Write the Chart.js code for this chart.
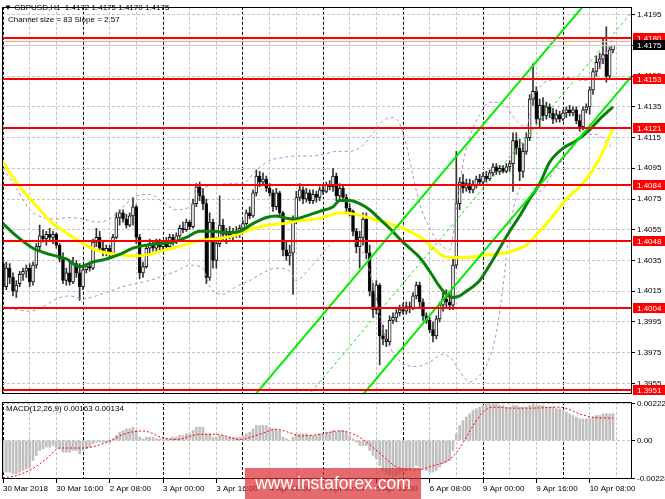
<!DOCTYPE html>
<html><head><meta charset="utf-8">
<script src="https://cdn.jsdelivr.net/npm/chart.js@4.4.1/dist/chart.umd.min.js"></script>
<style>
html,body{margin:0;padding:0;background:#fff;overflow:hidden;}
#wrap{position:relative;width:665px;height:499px;overflow:hidden;background:#fff;font-family:"Liberation Sans",Arial,sans-serif;}
canvas{position:absolute;left:0;}
#c1{top:0;}
#c2{top:395px;}
.t{position:absolute;font-size:8px;line-height:10px;color:#000;white-space:nowrap;}
#wm{position:absolute;left:245px;top:468px;width:176px;height:31px;background:rgba(218,48,52,0.72);color:#fff;font-size:17.5px;line-height:31px;text-align:center;}
</style></head><body>
<div id="wrap">
<canvas id="c1" width="665" height="401"></canvas>
<canvas id="c2" width="665" height="104"></canvas>
<div class="t" id="hdr1" style="left:4px;top:3px"></div>
<div class="t" style="left:8px;top:15px">Channel size = 83 Slope = 2.57</div>
<div class="t" id="hdr2" style="left:6px;top:404px"></div>
<div id="wm">www.instaforex.com</div>
</div>
<script>
// ---------- DATA ----------
const tickLabels = ["30 Mar 2018","30 Mar 16:00","2 Apr 08:00","3 Apr 00:00","3 Apr 16:00","4 Apr 08:00","5 Apr 00:00","5 Apr 16:00","6 Apr 08:00","9 Apr 00:00","9 Apr 16:00","10 Apr 08:00"];
const priceTicks = [1.3955,1.3975,1.3995,1.4015,1.4035,1.4055,1.4075,1.4095,1.4115,1.4135,1.4155,1.4175,1.4195];
const macdTicks = [-0.00228,0,0.00222];
const levels = [1.4180,1.4153,1.4121,1.4084,1.4048,1.4004,1.3951];
const bidPrice = 1.4175;
const askPrice = 1.41779;

const opens = [1.4033,1.4018,1.4030,1.4024,1.4015,1.4020,1.4026,1.4028,1.4030,1.4021,
1.4032,1.4044,1.4051,1.4049,1.4052,1.4050,1.4052,1.4045,1.4036,1.4022,
1.4027,1.4021,1.4033,1.4027,1.4018,1.4029,1.4031,1.4030,1.4047,1.4050,
1.4043,1.4040,1.4043,1.4039,1.4050,1.4063,1.4066,1.4062,1.4058,1.4064,
1.4070,1.4050,1.4027,1.4031,1.4043,1.4046,1.4043,1.4047,1.4044,1.4046,
1.4044,1.4050,1.4047,1.4051,1.4056,1.4055,1.4060,1.4057,1.4072,1.4083,
1.4077,1.4072,1.4024,1.4060,1.4035,1.4046,1.4058,1.4052,1.4054,1.4051,
1.4054,1.4052,1.4056,1.4059,1.4066,1.4064,1.4079,1.4090,1.4086,1.4088,
1.4082,1.4079,1.4070,1.4079,1.4066,1.4042,1.4038,1.4040,1.4061,1.4076,
1.4081,1.4075,1.4079,1.4074,1.4078,1.4076,1.4081,1.4080,1.4084,1.4083,
1.4090,1.4077,1.4082,1.4076,1.4069,1.4067,1.4054,1.4044,1.4050,1.4062,
1.4040,1.4015,1.4003,1.4019,1.3986,1.3984,1.3982,1.3996,1.3998,1.4001,
1.4003,1.4002,1.4005,1.4004,1.4012,1.4019,1.4008,1.3999,1.3996,1.3990,
1.3986,1.3997,1.4006,1.4010,1.4008,1.4006,1.4032,1.4072,1.4086,1.4082,
1.4085,1.4081,1.4084,1.4088,1.4086,1.4090,1.4088,1.4092,1.4096,1.4093,
1.4095,1.4093,1.4096,1.4098,1.4113,1.4108,1.4093,1.4106,1.4115,1.4140,
1.4145,1.4127,1.4136,1.4129,1.4135,1.4131,1.4127,1.4130,1.4127,1.4131,
1.4133,1.4131,1.4133,1.4126,1.4122,1.4133,1.4135,1.4146,1.4158,1.4164,
1.4166,1.4169,1.4155,1.4172];
const highs = [1.4035,1.4034,1.4033,1.4027,1.4022,1.4028,1.4030,1.4032,1.4033,1.4034,
1.4046,1.4058,1.4055,1.4054,1.4056,1.4054,1.4053,1.4046,1.4040,1.4030,
1.4035,1.4037,1.4035,1.4033,1.4031,1.4033,1.4034,1.4049,1.4056,1.4054,
1.4048,1.4045,1.4045,1.4052,1.4066,1.4068,1.4068,1.4065,1.4066,1.4076,
1.4071,1.4052,1.4034,1.4045,1.4049,1.4048,1.4049,1.4049,1.4048,1.4050,
1.4052,1.4052,1.4053,1.4058,1.4060,1.4062,1.4061,1.4075,1.4085,1.4086,
1.4082,1.4075,1.4066,1.4062,1.4050,1.4077,1.4062,1.4056,1.4057,1.4056,
1.4057,1.4058,1.4061,1.4068,1.4070,1.4081,1.4094,1.4093,1.4092,1.4090,
1.4085,1.4081,1.4082,1.4080,1.4067,1.4047,1.4045,1.4064,1.4080,1.4085,
1.4083,1.4082,1.4081,1.4081,1.4080,1.4083,1.4084,1.4086,1.4087,1.4095,
1.4092,1.4085,1.4084,1.4078,1.4072,1.4068,1.4056,1.4054,1.4066,1.4066,
1.4045,1.4020,1.4022,1.4020,1.3993,1.3990,1.3999,1.4001,1.4003,1.4006,
1.4007,1.4008,1.4008,1.4014,1.4021,1.4021,1.4010,1.4001,1.3998,1.3995,
1.3999,1.4008,1.4014,1.4016,1.4015,1.4036,1.4106,1.4089,1.4091,1.4088,
1.4088,1.4087,1.4090,1.4091,1.4092,1.4093,1.4094,1.4098,1.4098,1.4097,
1.4097,1.4098,1.4100,1.4118,1.4118,1.4114,1.4111,1.4118,1.4143,1.4163,
1.4148,1.4140,1.4141,1.4138,1.4137,1.4134,1.4133,1.4132,1.4133,1.4135,
1.4136,1.4135,1.4135,1.4130,1.4135,1.4137,1.4148,1.4160,1.4168,1.4170,
1.4180,1.4187,1.4174,1.4175];
const lows = [1.4014,1.4016,1.4020,1.4012,1.4011,1.4018,1.4022,1.4024,1.4018,1.4019,
1.4030,1.4041,1.4047,1.4045,1.4048,1.4046,1.4043,1.4034,1.4020,1.4019,
1.4019,1.4020,1.4024,1.4009,1.4016,1.4027,1.4028,1.4029,1.4044,1.4041,
1.4038,1.4038,1.4037,1.4038,1.4049,1.4058,1.4060,1.4056,1.4057,1.4058,
1.4046,1.4023,1.4024,1.4030,1.4040,1.4041,1.4041,1.4042,1.4041,1.4043,
1.4043,1.4045,1.4046,1.4050,1.4053,1.4054,1.4055,1.4056,1.4070,1.4074,
1.4068,1.4020,1.4022,1.4030,1.4030,1.4044,1.4048,1.4046,1.4049,1.4048,
1.4050,1.4050,1.4054,1.4058,1.4062,1.4063,1.4077,1.4083,1.4084,1.4080,
1.4077,1.4067,1.4068,1.4064,1.4038,1.4035,1.4032,1.4013,1.4059,1.4074,
1.4072,1.4073,1.4072,1.4072,1.4073,1.4074,1.4078,1.4079,1.4081,1.4080,
1.4074,1.4075,1.4074,1.4066,1.4064,1.4051,1.4040,1.4030,1.4045,1.4036,
1.4012,1.3998,1.4000,1.3967,1.3980,1.3979,1.3980,1.3994,1.3995,1.3999,
1.4000,1.4000,1.4001,1.4003,1.4010,1.4005,1.3996,1.3994,1.3988,1.3982,
1.3984,1.3995,1.4002,1.4005,1.4003,1.4003,1.4030,1.4068,1.4079,1.4080,
1.4079,1.4079,1.4082,1.4084,1.4085,1.4086,1.4087,1.4090,1.4091,1.4091,
1.4092,1.4092,1.4093,1.4080,1.4104,1.4087,1.4089,1.4104,1.4113,1.4136,
1.4124,1.4121,1.4126,1.4127,1.4128,1.4124,1.4125,1.4125,1.4126,1.4128,
1.4129,1.4129,1.4124,1.4119,1.4120,1.4131,1.4130,1.4143,1.4155,1.4160,
1.4163,1.4151,1.4153,1.4170];
const closes = [1.4018,1.4030,1.4024,1.4015,1.4019,1.4026,1.4028,1.4030,1.4021,1.4032,
1.4044,1.4051,1.4049,1.4052,1.4050,1.4052,1.4045,1.4036,1.4022,1.4027,
1.4021,1.4033,1.4027,1.4018,1.4029,1.4031,1.4030,1.4047,1.4050,1.4043,
1.4040,1.4043,1.4039,1.4050,1.4063,1.4066,1.4062,1.4058,1.4064,1.4070,
1.4050,1.4027,1.4031,1.4043,1.4046,1.4043,1.4047,1.4044,1.4046,1.4044,
1.4050,1.4047,1.4051,1.4056,1.4055,1.4060,1.4057,1.4072,1.4083,1.4077,
1.4072,1.4024,1.4060,1.4035,1.4046,1.4058,1.4052,1.4054,1.4051,1.4054,
1.4052,1.4056,1.4059,1.4066,1.4064,1.4079,1.4090,1.4086,1.4088,1.4082,
1.4079,1.4070,1.4079,1.4066,1.4042,1.4038,1.4040,1.4061,1.4076,1.4081,
1.4075,1.4079,1.4074,1.4078,1.4076,1.4081,1.4080,1.4084,1.4083,1.4090,
1.4077,1.4082,1.4076,1.4069,1.4067,1.4054,1.4044,1.4050,1.4062,1.4040,
1.4015,1.4003,1.4019,1.3986,1.3984,1.3982,1.3996,1.3998,1.4001,1.4003,
1.4002,1.4005,1.4004,1.4012,1.4019,1.4008,1.3999,1.3996,1.3990,1.3986,
1.3997,1.4006,1.4010,1.4008,1.4006,1.4032,1.4072,1.4086,1.4082,1.4085,
1.4081,1.4084,1.4088,1.4086,1.4090,1.4088,1.4092,1.4096,1.4093,1.4095,
1.4093,1.4096,1.4098,1.4113,1.4108,1.4093,1.4106,1.4115,1.4140,1.4145,
1.4127,1.4136,1.4129,1.4135,1.4131,1.4127,1.4130,1.4127,1.4131,1.4133,
1.4131,1.4133,1.4126,1.4122,1.4133,1.4135,1.4146,1.4158,1.4164,1.4166,
1.4169,1.4155,1.4172,1.4175];

// moving averages & bands as [bar, price] pairs
const greenMA = [[0,1.4059],[4,1.4051],[9,1.4043],[14,1.4039],[19,1.4036],[23,1.4031],[27,1.4034],[31,1.4036],[35,1.4039],[39,1.4043],[43,1.4045],[47,1.4046],[51,1.4047],[55,1.4050],[59,1.4054],[63,1.4054],[67,1.4053],[71,1.4054],[75,1.4059],[79,1.4063],[82,1.4064],[84,1.4063],[87,1.4062],[91,1.4064],[95,1.4067],[99,1.4070],[101,1.4074],[104,1.4074],[107,1.4072],[110,1.4068],[113,1.4062],[116,1.4056],[119,1.4049],[122,1.4043],[125,1.4037],[128,1.4028],[131,1.4018],[133,1.4013],[135,1.4011],[137,1.4012],[139,1.4015],[141,1.4018],[143,1.4022],[146,1.4032],[149,1.4043],[152,1.4054],[155,1.4064],[158,1.4075],[161,1.4085],[164,1.4099],[168,1.4108],[172,1.4113],[176,1.4120],[179,1.4127],[183,1.4135]];
const yellowMA = [[0,1.4099],[2,1.4092],[5,1.4083],[9,1.4073],[14,1.4061],[19,1.4053],[24,1.4046],[29,1.4041],[34,1.4039],[39,1.4038],[44,1.4039],[49,1.4042],[54,1.4045],[59,1.4048],[64,1.4049],[69,1.4051],[74,1.4055],[79,1.4058],[84,1.4059],[89,1.4061],[94,1.4062],[99,1.4065],[101,1.4066],[106,1.4065],[111,1.4062],[116,1.4059],[121,1.4055],[126,1.4049],[129,1.4043],[132,1.4038],[135,1.4037],[139,1.4037],[143,1.4038],[147,1.4039],[151,1.4040],[154,1.4042],[157,1.4045],[161,1.4054],[165,1.4064],[169,1.4075],[173,1.4083],[177,1.4094],[180,1.4106],[183,1.4121]];
const bbUpper = [[0,1.4095],[4,1.4082],[8,1.4068],[12,1.4063],[16,1.4062],[20,1.4063],[24,1.4062],[28,1.4060],[32,1.4062],[36,1.4070],[40,1.4077],[44,1.4078],[48,1.4073],[52,1.4068],[56,1.4070],[60,1.4082],[64,1.4084],[68,1.4085],[72,1.4085],[76,1.4094],[80,1.4100],[84,1.4102],[88,1.4103],[92,1.4103],[96,1.4104],[100,1.4106],[104,1.4106],[108,1.4110],[111,1.4118],[114,1.4126],[117,1.4128],[119,1.4124],[121,1.4110],[123,1.4090],[125,1.4072],[128,1.4056],[131,1.4046],[134,1.4042],[136,1.4068],[138,1.4098],[140,1.4115],[143,1.4130],[146,1.4138],[150,1.4137],[154,1.4126],[157,1.4122],[159,1.4140],[162,1.4150],[166,1.4153],[170,1.4154],[174,1.4152],[177,1.4155],[180,1.4165],[183,1.4180]];
const bbLower = [[0,1.4005],[4,1.4003],[8,1.4002],[12,1.4005],[16,1.4010],[20,1.4012],[24,1.4010],[28,1.4012],[32,1.4015],[36,1.4018],[40,1.4020],[44,1.4022],[48,1.4025],[52,1.4028],[56,1.4032],[60,1.4030],[62,1.4018],[66,1.4013],[70,1.4018],[74,1.4022],[78,1.4027],[82,1.4030],[86,1.4028],[88,1.4022],[92,1.4030],[96,1.4040],[100,1.4048],[104,1.4048],[108,1.4040],[111,1.4020],[114,1.3990],[117,1.3975],[120,1.3968],[124,1.3966],[128,1.3969],[132,1.3974],[135,1.3970],[137,1.3963],[140,1.3956],[143,1.3960],[146,1.3972],[148,1.3988],[150,1.4018],[152,1.4055],[154,1.4076],[156,1.4084],[158,1.4084],[161,1.4080],[165,1.4092],[170,1.4106],[175,1.4117],[178,1.4117],[181,1.4112],[183,1.4108]];

// regression channel end points
const channelBars  = [60, 190];
const channelUpper = [1.39075, 1.42415];
const channelMid   = [1.38660, 1.42000];
const channelLower = [1.38245, 1.41585];

const macdHist = [-0.0019,-0.0019,-0.0019,-0.0020,-0.0020,-0.0019,-0.0018,-0.0017,-0.0016,-0.0012,
-0.0009,-0.0006,-0.0005,-0.0004,-0.0004,-0.0003,-0.0004,-0.0005,-0.0007,-0.0007,
-0.0007,-0.0006,-0.0006,-0.0008,-0.0006,-0.0005,-0.0004,-0.0002,-0.0001,-0.0001,
-0.0001,-0.0001,-0.0001,0.0001,0.0003,0.0005,0.0006,0.0007,0.0007,0.0008,
0.0006,0.0002,0.0001,0.0002,0.0002,0.0002,0.0001,0.0001,0.0001,0.0001,
0.0001,0.0002,0.0002,0.0003,0.0003,0.0004,0.0004,0.0006,0.0008,0.0008,
0.0008,0.0004,0.0004,0.0002,0.0002,0.0003,0.0003,0.0002,0.0002,0.0002,
0.0002,0.0002,0.0003,0.0004,0.0005,0.0007,0.0009,0.0009,0.0009,0.0009,
0.0008,0.0007,0.0007,0.0006,0.0002,0.0001,0.0000,0.0002,0.0004,0.0004,
0.0004,0.0004,0.0003,0.0003,0.0003,0.0004,0.0004,0.0005,0.0005,0.0006,
0.0005,0.0006,0.0006,0.0005,0.0003,0.0001,-0.0001,-0.0003,-0.0003,-0.0003,
-0.0006,-0.0009,-0.0011,-0.0015,-0.0018,-0.0020,-0.0021,-0.0022,-0.0021,-0.0020,
-0.0019,-0.0018,-0.0017,-0.0016,-0.0015,-0.0016,-0.0017,-0.0018,-0.0019,-0.0019,
-0.0018,-0.0016,-0.0014,-0.0013,-0.0012,-0.0006,0.0004,0.0009,0.0012,0.0014,
0.0016,0.0018,0.0019,0.0020,0.0021,0.0022,0.0022,0.0022,0.0022,0.0021,
0.0021,0.0020,0.0020,0.0021,0.0021,0.0020,0.0020,0.0020,0.0021,0.0022,
0.0021,0.0021,0.0021,0.0020,0.0020,0.0020,0.0019,0.0019,0.0018,0.0017,
0.0016,0.0015,0.0014,0.0013,0.0013,0.0013,0.0013,0.0014,0.0015,0.0015,
0.0016,0.0016,0.0016,0.00163];
const macdSignal = [[0,-0.00225],[4,-0.0021],[9,-0.00168],[13,-0.0011],[17,-0.00045],[24,-0.00045],[32,-0.00004],[36,0.00037],[42,0.00057],[48,0.00016],[52,0.00006],[59,0.00037],[64,0.00037],[71,0.00006],[77,0.00037],[82,0.00067],[86,0.00047],[89,0.00027],[95,0.00037],[101,0.00057],[104,0.00047],[108,0.00006],[113,-0.00076],[118,-0.00158],[124,-0.00178],[128,-0.00158],[135,-0.00096],[138,-0.00014],[141,0.00088],[144,0.0017],[147,0.0020],[153,0.00194],[158,0.00194],[167,0.0020],[173,0.0016],[177,0.00139],[183,0.00134]];

// ---------- SETUP ----------
const X_MIN = -0.3, X_MAX = 188.7;
const Y_MIN = 1.394801, Y_MAX = 1.420007;
const M_MIN = -0.00231, M_MAX = 0.00231;
const FONT = '"Liberation Sans", Arial, sans-serif';
Chart.defaults.font.family = FONT;
Chart.defaults.font.size = 8;
Chart.defaults.color = '#000';

const last = opens.length - 1;
document.getElementById('hdr1').textContent = '\u25BC GBPUSD,H1  ' + [opens[last],highs[last],lows[last],closes[last]].map(v=>v.toFixed(4)).join(' ');
document.getElementById('hdr1').style.whiteSpace = 'pre';
document.getElementById('hdr2').textContent = 'MACD(12,26,9) ' + macdHist[last].toFixed(5) + ' ' + macdSignal[macdSignal.length-1][1].toFixed(5);

const idx = opens.map((_, i) => i);
const grid8 = [], grid24 = [], grid16 = [];
for (let v = 0; v <= 188; v += 8) { if (v % 24 !== 0) grid8.push(v); }
for (let v = 0; v <= 188; v += 24) grid24.push(v);
tickLabels.forEach((_, k) => grid16.push(k * 16));

function fixedTicks(arr) { return function (scale) { scale.ticks = arr.map(v => ({ value: v })); }; }
const pts = arr => arr.map(p => ({ x: p[0], y: p[1] }));

function xGrid(ticks, color) {
  return {
    type: 'linear', position: 'bottom', min: X_MIN, max: X_MAX, offset: false,
    afterBuildTicks: fixedTicks(ticks), afterFit(s) { s.height = 0; },
    ticks: { display: false },
    grid: { color: color, lineWidth: 1, drawTicks: false, offset: false },
    border: { display: false, dash: [3, 2] }
  };
}

const framePlugin = {
  id: 'frame',
  afterDraw(chart) {
    const { ctx, chartArea: a } = chart;
    ctx.save();
    ctx.strokeStyle = '#000'; ctx.lineWidth = 1;
    ctx.strokeRect(Math.round(a.left) + 0.5, Math.round(a.top) + 0.5, Math.round(a.right - a.left) - 1, Math.round(a.bottom - a.top) - 1);
    ctx.restore();
  }
};

const levelPlugin = {
  id: 'levels',
  afterDatasetsDraw(chart) {
    const { ctx, chartArea: a, scales: { y } } = chart;
    ctx.save();
    ctx.beginPath(); ctx.rect(a.left, a.top, a.right - a.left, a.bottom - a.top); ctx.clip();
    const yb = Math.round(y.getPixelForValue(bidPrice)) + 0.5;
    ctx.strokeStyle = '#c8c8c8'; ctx.lineWidth = 1;
    ctx.beginPath(); ctx.moveTo(a.left, yb); ctx.lineTo(a.right, yb); ctx.stroke();
    const ya = Math.round(y.getPixelForValue(askPrice)) + 0.5;
    ctx.strokeStyle = '#ffa27a';
    ctx.beginPath(); ctx.moveTo(a.left, ya); ctx.lineTo(a.right, ya); ctx.stroke();
    ctx.strokeStyle = '#ff0000'; ctx.lineWidth = 2;
    levels.forEach(v => {
      const py = Math.round(y.getPixelForValue(v));
      ctx.beginPath(); ctx.moveTo(a.left, py); ctx.lineTo(a.right, py); ctx.stroke();
    });
    ctx.restore();
  },
  afterDraw(chart) {
    const { ctx, chartArea: a, scales: { y } } = chart;
    ctx.save();
    ctx.font = '8px ' + FONT; ctx.textBaseline = 'middle'; ctx.textAlign = 'left';
    const box = (v, bg) => {
      const py = Math.round(y.getPixelForValue(v));
      ctx.fillStyle = bg; ctx.fillRect(a.right + 1, py - 5, 34, 10);
      ctx.fillStyle = '#fff'; ctx.fillText(v.toFixed(4), a.right + 5, py + 0.5);
    };
    levels.forEach(v => box(v, '#ff0000'));
    box(bidPrice, '#000000');
    ctx.restore();
  }
};

const bull = idx.map(i => closes[i] >= opens[i]);

new Chart(document.getElementById('c1'), {
  type: 'bar',
  data: {
    datasets: [
      { type: 'line', label: 'chanU', data: channelBars.map((b, k) => ({ x: b, y: channelUpper[k] })), borderColor: '#00ee00', borderWidth: 2, pointRadius: 0, order: 5 },
      { type: 'line', label: 'chanM', data: channelBars.map((b, k) => ({ x: b, y: channelMid[k] })), borderColor: '#00ee00', borderWidth: 1, borderDash: [3, 3], pointRadius: 0, order: 5 },
      { type: 'line', label: 'chanL', data: channelBars.map((b, k) => ({ x: b, y: channelLower[k] })), borderColor: '#00ee00', borderWidth: 2, pointRadius: 0, order: 5 },
      { type: 'line', label: 'green', data: pts(greenMA), borderColor: '#0a800a', borderWidth: 3, pointRadius: 0, tension: 0.4, cubicInterpolationMode: 'monotone', order: 6 },
      { type: 'line', label: 'yellow', data: pts(yellowMA), borderColor: '#ffff00', borderWidth: 3, pointRadius: 0, tension: 0.4, cubicInterpolationMode: 'monotone', order: 7 },
      { type: 'line', label: 'bbU', data: pts(bbUpper), borderColor: '#c080e0', borderWidth: 1, borderDash: [3, 3], pointRadius: 0, tension: 0.4, cubicInterpolationMode: 'monotone', order: 8 },
      { type: 'line', label: 'bbL', data: pts(bbLower), borderColor: '#c080e0', borderWidth: 1, borderDash: [3, 3], pointRadius: 0, tension: 0.4, cubicInterpolationMode: 'monotone', order: 8 },
      { type: 'bar', label: 'body', data: idx.map(i => ({ x: i, y: [opens[i], closes[i]] })), backgroundColor: idx.map(i => bull[i] ? '#ffffff' : '#000000'), borderColor: '#111', borderWidth: 1, borderSkipped: false, barThickness: 3, minBarLength: 1, grouped: false, order: 19 },
      { type: 'bar', label: 'wick', data: idx.map(i => ({ x: i, y: [lows[i], highs[i]] })), backgroundColor: '#333', barThickness: 1, grouped: false, order: 20 }
    ]
  },
  options: {
    responsive: false, animation: false, events: [],
    layout: { padding: { left: 2, top: 2, right: 0, bottom: 1 } },
    plugins: { legend: { display: false }, tooltip: { enabled: false } },
    scales: {
      x: xGrid(grid8, '#c4c4c4'),
      xd: xGrid(grid24, '#000000'),
      y: {
        type: 'linear', position: 'right', min: Y_MIN, max: Y_MAX,
        afterBuildTicks: fixedTicks(priceTicks), afterFit(s) { s.width = 33; },
        ticks: { autoSkip: false, padding: 2, color: '#000', font: { size: 8 }, callback: v => v.toFixed(4) },
        grid: { color: '#c4c4c4', tickColor: '#000', tickLength: 3, tickBorderDash: [] },
        border: { display: false, dash: [3, 2] }
      }
    }
  },
  plugins: [levelPlugin, framePlugin]
});

new Chart(document.getElementById('c2'), {
  type: 'bar',
  data: {
    datasets: [
      { type: 'line', label: 'signal', data: pts(macdSignal), borderColor: '#ff0000', borderWidth: 1, borderDash: [2, 2], pointRadius: 0, tension: 0.4, cubicInterpolationMode: 'monotone', order: 1 },
      { type: 'bar', label: 'macd', data: idx.map(i => ({ x: i, y: macdHist[i] })), backgroundColor: '#c0c0c0', barThickness: 2, grouped: false, order: 2 }
    ]
  },
  options: {
    responsive: false, animation: false, events: [],
    layout: { padding: { left: 2, top: 7, right: 0, bottom: 0 } },
    plugins: { legend: { display: false }, tooltip: { enabled: false } },
    scales: {
      x: xGrid(grid8, '#c4c4c4'),
      xd: xGrid(grid24, '#000000'),
      xl: {
        type: 'linear', position: 'bottom', min: X_MIN, max: X_MAX, offset: false,
        afterBuildTicks: fixedTicks(grid16), afterFit(s) { s.height = 20; },
        ticks: { autoSkip: false, maxRotation: 0, minRotation: 0, align: 'start', padding: 1, color: '#000', font: { size: 8 },
          callback: v => tickLabels[Math.round(v / 16)] },
        grid: { drawOnChartArea: false, drawTicks: true, tickLength: 4, tickColor: '#000', offset: false },
        border: { display: false }
      },
      y: {
        type: 'linear', position: 'right', min: M_MIN, max: M_MAX,
        afterBuildTicks: fixedTicks(macdTicks), afterFit(s) { s.width = 33; },
        ticks: { autoSkip: false, padding: 2, color: '#000', font: { size: 8 }, callback: v => v === 0 ? '0.00' : v.toFixed(5) },
        grid: { color: '#c4c4c4', tickColor: '#000', tickLength: 3, tickBorderDash: [] },
        border: { display: false, dash: [3, 2] }
      }
    }
  },
  plugins: [framePlugin]
});
</script>
</body></html>
